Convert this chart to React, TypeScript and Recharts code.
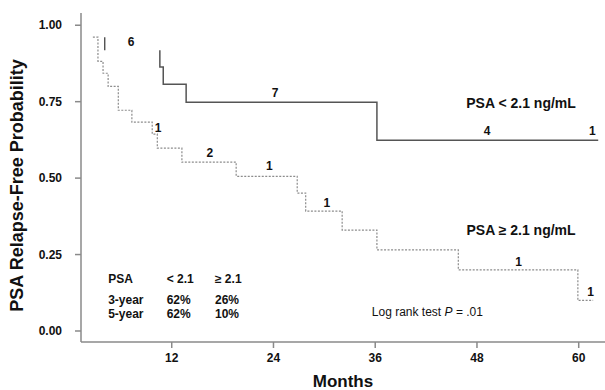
import React from "react";
import { Label, Line, LineChart, ReferenceDot, XAxis, YAxis } from "recharts";

// Kaplan–Meier steps: [month, survival]
const lowMonths = [10.6, 10.6, 11.0, 13.7, 36.2, 62.3];
const lowSurv = [0.918, 0.863, 0.807, 0.748, 0.624, 0.624];

const highMonths = [2.7, 3.3, 3.9, 4.5, 5.7, 7.3, 9.7, 10.3, 13.2, 19.6, 26.8, 27.8, 32.1, 36.2, 45.8, 59.9, 61.7];
const highSurv = [0.961, 0.882, 0.843, 0.8, 0.722, 0.683, 0.644, 0.598, 0.552, 0.506, 0.451, 0.392, 0.33, 0.265, 0.2, 0.1, 0.1];

// early drop on the PSA < 2.1 curve, only the riser survived the scan
const tickMonths = [4.1, 4.1];
const tickSurv = [0.961, 0.918];

const xTicks = [12, 24, 36, 48, 60];
const yTicks = [0, 0.25, 0.5, 0.75, 1];

// numbers at risk and text blocks, placed in data units
const noteText = ["6", "7", "4", "1", "1", "2", "1", "1", "1", "1"];
const noteMonth = [7.2, 24.2, 49.2, 61.6, 10.4, 16.5, 23.5, 30.3, 52.9, 61.4];
const noteSurv = [0.944, 0.778, 0.654, 0.654, 0.663, 0.582, 0.539, 0.418, 0.225, 0.127];

const tableRows = [
  ["PSA", "< 2.1", "\u2265 2.1"],
  ["3-year", "62%", "26%"],
  ["5-year", "62%", "10%"],
];
const tableCols = [4.5, 11.4, 17.1];
const tableSurv = [0.17, 0.101, 0.056];

const toSteps = (ms: number[], ss: number[]) => ms.map((m, i) => ({ m, s: ss[i] }));

const FONT = "'Liberation Sans', Arial, sans-serif";
const AXIS = "#8a8a8a";

function TextAt({ cx, cy, children, anchor = "middle", size = 12, weight = 700 }: any) {
  return (
    <text x={cx} y={cy} textAnchor={anchor} dominantBaseline="central" fontFamily={FONT} fontSize={size} fontWeight={weight} fill="#111">
      {children}
    </text>
  );
}

// rotated title, nudged down to where the scan has it
function YTitle({ viewBox }: any) {
  const x = 17;
  const y = viewBox.y + viewBox.height / 2 + 8;
  return (
    <text x={x} y={y} transform={`rotate(-90, ${x}, ${y})`} textAnchor="middle" dominantBaseline="central" fontFamily={FONT} fontSize={18} fontWeight={700} fill="#111">
      PSA Relapse-Free Probability
    </text>
  );
}

export default function App() {
  return (
    <div style={{ width: 605, height: 390 }}>
      <style>{"body{margin:0}"}</style>
      <LineChart width={605} height={390} margin={{ top: 13, right: 0, bottom: 0, left: 0 }}>
        <XAxis
          type="number"
          dataKey="m"
          domain={[1.3, 63.1]}
          ticks={xTicks}
          allowDataOverflow
          height={48}
          stroke={AXIS}
          strokeWidth={1.5}
          tickSize={6}
          tickMargin={5}
          tick={{ fontSize: 12, fontWeight: 700, fill: "#111", fontFamily: FONT }}
          label={{ value: "Months", position: "insideBottom", offset: 3, fontSize: 17, fontWeight: 700, fill: "#111", fontFamily: FONT }}
        />
        <YAxis
          type="number"
          domain={[-0.036, 1.04]}
          ticks={yTicks}
          allowDataOverflow
          width={81}
          stroke={AXIS}
          strokeWidth={1.5}
          tickSize={6}
          tickMargin={13}
          tickFormatter={(v: number) => v.toFixed(2)}
          tick={{ fontSize: 12, fontWeight: 700, fill: "#111", fontFamily: FONT }}
        >
          <Label content={(p: any) => <YTitle {...p} />} />
        </YAxis>
        <Line data={toSteps(highMonths, highSurv)} dataKey="s" type="stepAfter" stroke="#8c8c8c" strokeWidth={1.2} strokeDasharray="2 1.5" dot={false} isAnimationActive={false} />
        <Line data={toSteps(lowMonths, lowSurv)} dataKey="s" type="stepAfter" stroke="#555" strokeWidth={1.5} dot={false} isAnimationActive={false} />
        <Line data={toSteps(tickMonths, tickSurv)} dataKey="s" type="linear" stroke="#444" strokeWidth={1.3} dot={false} isAnimationActive={false} />

        {noteText.map((t, i) => (
          <ReferenceDot key={"n" + i} x={noteMonth[i]} y={noteSurv[i]} r={0} shape={(p: any) => <TextAt {...p}>{t}</TextAt>} />
        ))}
        <ReferenceDot x={53.2} y={0.745} r={0} shape={(p: any) => <TextAt {...p} size={14}>PSA &lt; 2.1 ng/mL</TextAt>} />
        <ReferenceDot x={53.2} y={0.33} r={0} shape={(p: any) => <TextAt {...p} size={14}>PSA {"\u2265"} 2.1 ng/mL</TextAt>} />
        <ReferenceDot
          x={35.6}
          y={0.062}
          r={0}
          shape={(p: any) => (
            <TextAt {...p} anchor="start" weight={400}>
              Log rank test <tspan fontStyle="italic">P</tspan> = .01
            </TextAt>
          )}
        />
        {tableRows.map((row, r) =>
          row.map((cell, c) => (
            <ReferenceDot
              key={"t" + r + c}
              x={tableCols[c]}
              y={tableSurv[r]}
              r={0}
              shape={(p: any) => <TextAt {...p} anchor="start">{cell}</TextAt>}
            />
          ))
        )}
      </LineChart>
    </div>
  );
}
